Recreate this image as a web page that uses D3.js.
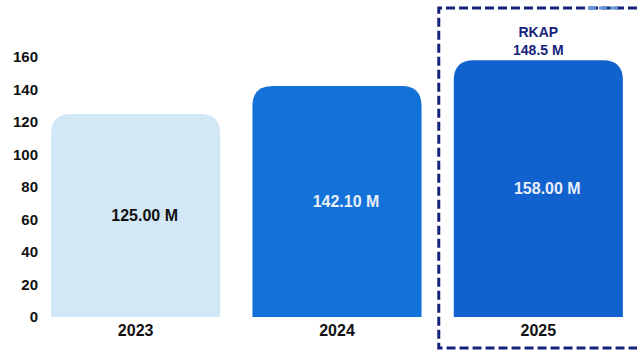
<!DOCTYPE html>
<html>
<head>
<meta charset="utf-8">
<script src="https://cdn.jsdelivr.net/npm/d3@7"></script>
<style>
  body { margin: 0; background: #fff; }
  svg text { font-family: "Liberation Sans", Arial, sans-serif; font-weight: bold; }
</style>
</head>
<body>
<svg id="chart" width="637" height="350"></svg>
<script>
// data
var years = ["2023", "2024", "2025"];
var values = [125.00, 142.10, 158.00];
var valueLabels = ["125.00 M", "142.10 M", "158.00 M"];
var yTicks = [0, 20, 40, 60, 80, 100, 120, 140, 160];
var targetLabel = ["RKAP", "148.5 M"];

var barColors = ["#d3e8f7", "#1372d9", "#1162cf"];
var labelColors = ["#111", "#e8eef8", "#e8eef8"];

var svg = d3.select("#chart");

var x = d3.scaleBand().domain(years).range([35, 639]).paddingInner(0.16).paddingOuter(0.08);
var y = d3.scaleLinear().domain([0, 160]).range([317, 57]);

// y axis labels only, no line
var yAxis = svg.append("g").attr("transform", "translate(38,0)")
    .call(d3.axisLeft(y).tickValues(yTicks).tickSize(0).tickPadding(0));
yAxis.select(".domain").remove();
yAxis.selectAll("text").attr("font-size", 15).attr("fill", "#111")
    .style("font-family", "'Liberation Sans', Arial, sans-serif").style("font-weight", "bold");

// bars with rounded top corners
function barPath(d, i) {
  var x0 = x(years[i]), w = x.bandwidth(), y0 = y(d), y1 = y(0), r = 20;
  return "M" + x0 + "," + y1 +
    "V" + (y0 + r) +
    "Q" + x0 + "," + y0 + " " + (x0 + r) + "," + y0 +
    "H" + (x0 + w - r) +
    "Q" + (x0 + w) + "," + y0 + " " + (x0 + w) + "," + (y0 + r) +
    "V" + y1 + "Z";
}

svg.append("g").selectAll("path").data(values).enter().append("path")
    .attr("d", barPath)
    .attr("fill", function(d, i) { return barColors[i]; });

svg.append("g").selectAll("text").data(values).enter().append("text")
    .attr("x", function(d, i) { return x(years[i]) + x.bandwidth() / 2 + 9; })
    .attr("y", function(d) { return (y(d) + y(0)) / 2; })
    .attr("dy", "0.35em")
    .attr("text-anchor", "middle")
    .attr("font-size", 16)
    .attr("fill", function(d, i) { return labelColors[i]; })
    .text(function(d, i) { return valueLabels[i]; });

// x axis labels
var xAxis = svg.append("g").attr("transform", "translate(0,322)")
    .call(d3.axisBottom(x).tickSize(0).tickPadding(0));
xAxis.select(".domain").remove();
xAxis.selectAll("text").attr("font-size", 16).attr("fill", "#111").attr("dy", "0.85em")
    .style("font-family", "'Liberation Sans', Arial, sans-serif").style("font-weight", "bold");

// dashed target box around 2025
var bx = x("2025") - 15;
svg.append("path")
    .attr("d", "M650,8H" + bx + "V348H650")
    .attr("fill", "none")
    .attr("stroke", "#16237a")
    .attr("stroke-width", 3)
    .attr("stroke-dasharray", "9,4");
svg.append("line")
    .attr("x1", 588).attr("x2", 618).attr("y1", 8).attr("y2", 8)
    .attr("stroke", "#5f93d6").attr("stroke-width", 3).attr("stroke-dasharray", "8,3");

var cx = x("2025") + x.bandwidth() / 2;
svg.append("g").selectAll("text").data(targetLabel).enter().append("text")
    .attr("x", cx)
    .attr("y", function(d, i) { return 32 + i * 18; })
    .attr("dy", "0.35em")
    .attr("text-anchor", "middle")
    .attr("font-size", 14)
    .attr("fill", "#16237a")
    .text(function(d) { return d; });
</script>
</body>
</html>
